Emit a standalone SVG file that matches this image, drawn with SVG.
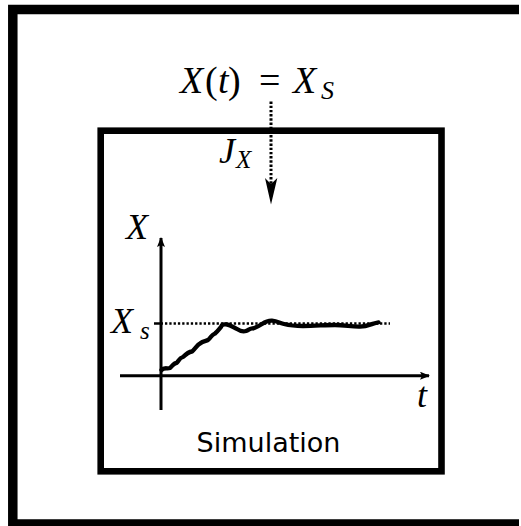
<svg xmlns="http://www.w3.org/2000/svg" width="521" height="526" viewBox="0 0 521 526">
<style>
.m{font-family:"Liberation Serif","Times New Roman",serif;font-style:italic;fill:#000}
.r{font-family:"Liberation Serif","Times New Roman",serif;fill:#000}
.s{font-family:"DejaVu Sans",sans-serif;fill:#000}
.ax{stroke:#000;stroke-width:3;fill:none}
</style>
<defs>
<marker id="ah" markerWidth="10" markerHeight="8" refX="9" refY="4" orient="auto" markerUnits="userSpaceOnUse">
<path d="M0,0 L10,4 L0,8 L2,4 Z" fill="#000"/>
</marker>
</defs>
<rect width="521" height="526" fill="#fff"/>
<g id="outer">
<path d="M519,9.5 H12.8 V524 H519" fill="none" stroke="#000" stroke-width="9.5" stroke-linecap="butt" stroke-linejoin="miter"/>
</g>
<g id="label-top">
<text class="m" x="180" y="93.3" font-size="38">X</text>
<text class="r" x="205" y="93.3" font-size="38">(</text>
<text class="m" x="218" y="93.3" font-size="38">t</text>
<text class="r" x="228" y="93.3" font-size="38">)</text>
<text class="r" x="259" y="93.3" font-size="38">=</text>
<text class="m" x="293" y="93.3" font-size="38">X</text>
<text class="m" x="321" y="98.5" font-size="26">S</text>
</g>
<g id="simulation">
<rect x="100.7" y="130.7" width="340.8" height="340.6" fill="none" stroke="#000" stroke-width="6.6"/>
<text class="s" x="268.5" y="451.7" font-size="27" text-anchor="middle">Simulation</text>
</g>
<g id="connectors">
<line x1="271" y1="101.5" x2="271" y2="184" stroke="#000" stroke-width="3" stroke-dasharray="2.4 1.8"/>
<path d="M265,178 L271,184 L277.3,178 L271,204.5 Z" fill="#000"/>
</g>
<g id="label-jx">
<text class="m" x="219" y="163.3" font-size="36">J</text>
<text class="m" x="236" y="168.3" font-size="25">X</text>
</g>
<g id="plot">
<line class="ax" x1="161" y1="410" x2="161" y2="238" marker-end="url(#ah)"/>
<line class="ax" x1="120" y1="375.7" x2="429" y2="375.7" marker-end="url(#ah)"/>
<line x1="154" y1="323.5" x2="163" y2="323.5" stroke="#000" stroke-width="2.5"/>
<line x1="165" y1="323.5" x2="390" y2="323.5" stroke="#000" stroke-width="2.5" stroke-dasharray="2.3 2"/>
<path d="M161.5,370 C164,367 167,369 170,368 C172,366 174,363 176.5,363 C179,361 179,358 183,357 C186,354 188,352 192,351.5 C195,349 197,345 200,343.5 C203,341 206,341 208,340 C211,338 211,335 215,333.5 C218,331 219,329 221,327 C222,323 225,324.5 227,324.5 C231,325 234,328 237,329 C240,331 243,332 246,331 C249,330 250,328 253,328.5 C257,327 259,326 262,324 C265,322 268,320.5 272,320.7 C277,321 280,323 284,324 C290,325.5 296,326 303,326 C315,326 325,325 335,325 C345,325 352,327 360,326.7 C368,326.5 373,323 378.5,322.3" fill="none" stroke="#000" stroke-width="4.3" stroke-linecap="round" stroke-linejoin="round"/>
<text class="m" x="126" y="239" font-size="36">X</text>
<text class="m" x="111" y="333" font-size="36">X</text>
<text class="m" x="140" y="339" font-size="25">s</text>
<text class="m" x="417" y="407" font-size="36">t</text>
</g>
</svg>
